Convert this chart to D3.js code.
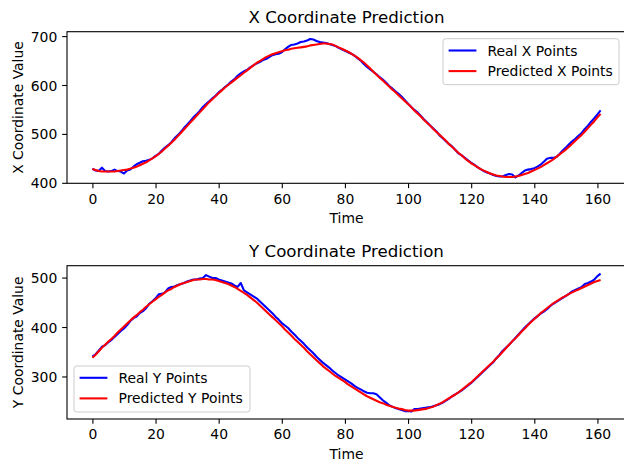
<!DOCTYPE html>
<html>
<head>
<meta charset="utf-8">
<script src="https://cdn.jsdelivr.net/npm/d3@7"></script>
<style>
body { margin: 0; background: #fff; }
svg { font-family: "DejaVu Sans", sans-serif; }
</style>
</head>
<body>
<svg id="chart" width="624" height="462"></svg>
<script>
// values, one per time step (t = index, 0..161)
var realX = [
  429,425,424,431,424,423,424,427,424,423,
  419,425,427,433,438,441,444,445,447,450,
  455,459,466,472,477,483,491,497,504,512,
  519,526,534,540,547,555,561,567,573,578,
  585,590,596,601,607,612,619,624,628,631,
  636,640,644,647,651,653,657,661,663,664,
  667,673,678,682,683,685,688,689,691,694,
  693,690,688,687,686,684,682,680,676,673,
  670,667,664,660,655,650,643,637,632,627,
  622,616,611,605,598,593,587,582,576,569,
  562,555,549,544,537,530,524,517,511,505,
  497,491,485,479,474,467,460,456,451,446,
  441,437,432,428,424,421,419,416,414,413,
  413,416,418,417,411,415,420,425,427,428,
  430,433,437,443,449,451,451,453,459,466,
  472,479,485,490,496,502,510,517,525,532,
  540,548
];
var predX = [
  428,426,424,423,423,423,423,423,424,425,
  426,427,429,431,433,436,439,442,446,450,
  454,459,464,470,476,482,488,495,502,509,
  516,523,530,537,544,551,558,565,571,577,
  583,589,595,600,605,610,615,620,625,630,
  635,640,645,649,653,657,660,663,665,667,
  669,671,672,674,675,676,677,678,679,681,
  682,683,684,685,685,684,683,680,677,674,
  671,668,664,660,656,651,646,640,634,627,
  621,615,609,603,597,591,585,579,573,567,
  561,555,548,542,536,529,523,517,510,504,
  498,492,486,479,473,467,461,456,450,445,
  440,436,432,428,425,422,419,417,415,414,
  413,412,412,412,413,414,416,418,420,423,
  426,429,432,436,440,444,448,453,458,463,
  468,474,480,486,492,498,505,512,519,526,
  534,541
];
var realY = [
  340,345,352,360,363,369,374,380,386,392,
  397,404,412,418,421,428,432,438,447,452,
  458,466,467,470,478,481,482,485,487,489,
  492,494,496,496,498,499,505,502,499,499,
  496,494,492,490,488,484,481,489,474,470,
  466,462,458,452,446,440,434,428,421,415,
  408,403,398,391,385,378,372,366,359,353,
  347,340,334,328,323,318,312,307,302,298,
  294,290,286,281,277,274,270,267,266,266,
  264,258,252,247,242,239,236,234,232,230,
  230,229,234,234,235,236,237,238,240,242,
  244,247,251,255,260,264,268,272,277,282,
  287,293,299,305,311,317,323,329,337,344,
  352,358,364,371,378,385,392,399,405,411,
  417,422,427,431,436,442,447,451,455,459,
  463,467,472,475,478,481,487,489,492,496,
  503,508
];
var predY = [
  338,344,351,358,364,370,376,382,389,395,
  401,407,413,419,424,430,435,441,446,451,
  456,461,465,470,474,477,481,484,487,489,
  491,493,495,496,496,497,497,496,496,495,
  493,491,489,487,484,481,477,473,469,465,
  460,455,450,444,438,432,426,420,414,408,
  402,395,389,383,376,370,364,358,351,345,
  339,333,327,321,316,311,306,301,297,293,
  289,284,280,276,272,268,264,260,257,254,
  251,248,246,243,241,239,237,235,234,232,
  231,231,231,232,233,234,235,237,239,242,
  245,248,252,256,260,264,268,273,278,283,
  288,294,300,306,312,318,324,330,337,343,
  350,357,364,371,377,384,391,397,404,410,
  416,422,428,433,438,443,448,452,456,460,
  463,467,470,473,476,479,482,485,488,491,
  493,495
];

var timeTicks = [0, 20, 40, 60, 80, 100, 120, 140, 160];
var xValueTicks = [400, 500, 600, 700];
var yValueTicks = [300, 400, 500];

var svg = d3.select("#chart"),
    left = 67, right = 626,
    fontSize = 13.9;

var x = d3.scaleLinear()
    .domain([-8.05, 169.05])
    .range([left, right]);

function styleAxis(sel) {
  sel.select(".domain").remove();
  sel.attr("font-family", null).attr("font-size", null);
  sel.selectAll(".tick line").attr("stroke", "#000").attr("stroke-width", 1.1);
  sel.selectAll(".tick text").attr("fill", "#000").style("font-size", fontSize + "px");
}

function drawPanel(opt) {
  var y = d3.scaleLinear()
      .domain(opt.yDomain)
      .range([opt.bottom, opt.top]);

  var line = d3.line()
      .x(function(d, i) { return x(i); })
      .y(function(d) { return y(d); });

  svg.append("clipPath")
      .attr("id", "clip-" + opt.id)
    .append("rect")
      .attr("x", left)
      .attr("y", opt.top)
      .attr("width", right - left)
      .attr("height", opt.bottom - opt.top);

  var g = svg.append("g");

  g.append("path")
      .datum(opt.real)
      .attr("clip-path", "url(#clip-" + opt.id + ")")
      .attr("fill", "none")
      .attr("stroke", "#0000ff")
      .attr("stroke-width", 2.08)
      .attr("stroke-linejoin", "round")
      .attr("d", line);

  g.append("path")
      .datum(opt.pred)
      .attr("clip-path", "url(#clip-" + opt.id + ")")
      .attr("fill", "none")
      .attr("stroke", "#ff0000")
      .attr("stroke-width", 2.08)
      .attr("stroke-linejoin", "round")
      .attr("d", line);

  g.append("g")
      .attr("transform", "translate(0," + opt.bottom + ")")
      .call(d3.axisBottom(x).tickValues(timeTicks).tickSize(4.86).tickPadding(4.86))
      .call(styleAxis)
    .selectAll(".tick text")
      .attr("dy", "0.76em");

  g.append("g")
      .attr("transform", "translate(" + left + ",0)")
      .call(d3.axisLeft(y).tickValues(opt.yTicks).tickSize(4.86).tickPadding(4.86))
      .call(styleAxis)
    .selectAll(".tick text")
      .attr("dy", "0.36em");

  // axes frame
  g.append("rect")
      .attr("x", left)
      .attr("y", opt.top)
      .attr("width", right - left)
      .attr("height", opt.bottom - opt.top)
      .attr("fill", "none")
      .attr("stroke", "#000")
      .attr("stroke-width", 1.1);

  g.append("text")
      .attr("x", (left + right) / 2)
      .attr("y", opt.top - 8.3)
      .attr("text-anchor", "middle")
      .style("font-size", "16.67px")
      .text(opt.title);

  g.append("text")
      .attr("x", (left + right) / 2)
      .attr("y", opt.bottom + 39.8)
      .attr("text-anchor", "middle")
      .style("font-size", fontSize + "px")
      .text("Time");

  g.append("text")
      .attr("transform", "translate(23," + (opt.top + opt.bottom) / 2 + ") rotate(-90)")
      .attr("text-anchor", "middle")
      .style("font-size", fontSize + "px")
      .text(opt.yLabel);

  // legend
  var lg = g.append("g")
      .attr("transform", "translate(" + opt.legendX + "," + opt.legendY + ")");

  lg.append("rect")
      .attr("width", 176)
      .attr("height", 46)
      .attr("rx", 2.8)
      .attr("fill", "#fff")
      .attr("fill-opacity", 0.8)
      .attr("stroke", "#cccccc")
      .attr("stroke-width", 1);

  var items = lg.selectAll(".item")
      .data(opt.labels)
    .enter().append("g")
      .attr("transform", function(d, i) { return "translate(0," + (11.8 + i * 20.6) + ")"; });

  items.append("line")
      .attr("x1", 5.6)
      .attr("x2", 33.4)
      .attr("stroke", function(d) { return d.color; })
      .attr("stroke-width", 2.08);

  items.append("text")
      .attr("x", 44.5)
      .attr("dy", "0.36em")
      .style("font-size", fontSize + "px")
      .text(function(d) { return d.name; });
}

drawPanel({
  id: "x",
  top: 31.7, bottom: 183.3,
  yDomain: [399, 709],
  yTicks: xValueTicks,
  real: realX, pred: predX,
  title: "X Coordinate Prediction",
  yLabel: "X Coordinate Value",
  legendX: 443, legendY: 38.7,
  labels: [{name: "Real X Points", color: "#0000ff"}, {name: "Predicted X Points", color: "#ff0000"}]
});

drawPanel({
  id: "y",
  top: 265.7, bottom: 419,
  yDomain: [214, 524],
  yTicks: yValueTicks,
  real: realY, pred: predY,
  title: "Y Coordinate Prediction",
  yLabel: "Y Coordinate Value",
  legendX: 74, legendY: 366,
  labels: [{name: "Real Y Points", color: "#0000ff"}, {name: "Predicted Y Points", color: "#ff0000"}]
});
</script>
</body>
</html>
